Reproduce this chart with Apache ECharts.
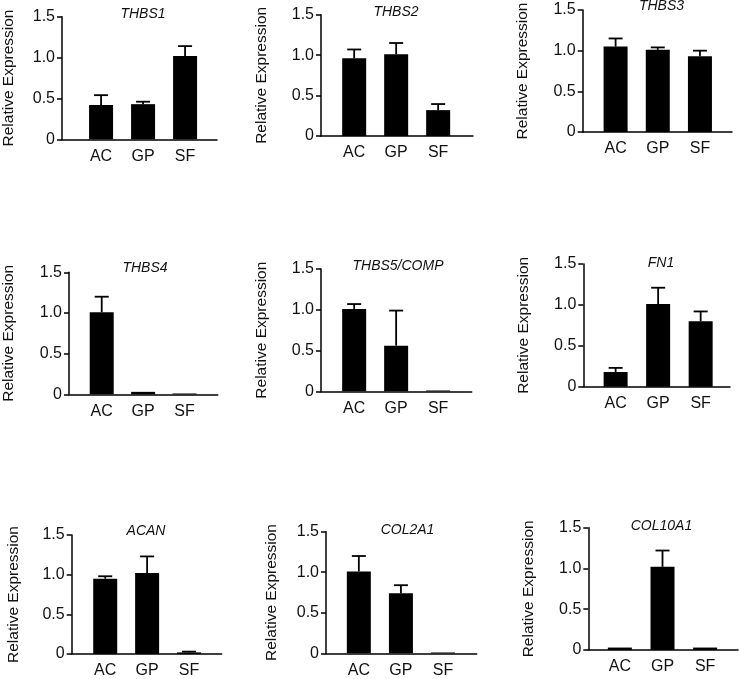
<!DOCTYPE html>
<html>
<head>
<meta charset="utf-8">
<script src="https://cdn.jsdelivr.net/npm/echarts@6/dist/echarts.min.js"></script>
<style>html,body{margin:0;padding:0;background:#fff}#c{width:739px;height:679px}</style>
</head>
<body>
<div id="c"></div>
<script>
// ---- data ----
const categories = ['AC', 'GP', 'SF'];
const genes = ['THBS1', 'THBS2', 'THBS3', 'THBS4', 'THBS5/COMP', 'FN1', 'ACAN', 'COL2A1', 'COL10A1'];
const yTicks = [0, 0.5, 1.0, 1.5];
const thbs1 = [0.42, 0.43, 1.02];     const thbs1Err = [0.12, 0.03, 0.12];
const thbs2 = [0.96, 1.01, 0.32];     const thbs2Err = [0.11, 0.14, 0.075];
const thbs3 = [1.05, 1.01, 0.93];     const thbs3Err = [0.10, 0.03, 0.07];
const thbs4 = [1.01, 0.03, 0.01];     const thbs4Err = [0.19, 0, 0];
const thbs5 = [1.01, 0.56, 0.01];     const thbs5Err = [0.06, 0.43, 0];
const fn1 = [0.18, 1.01, 0.80];       const fn1Err = [0.05, 0.20, 0.12];
const acan = [0.95, 1.02, 0.02];      const acanErr = [0.03, 0.21, 0.01];
const col2a1 = [1.01, 0.74, 0.01];    const col2a1Err = [0.19, 0.10, 0];
const col10a1 = [0.03, 1.02, 0.03];   const col10a1Err = [0, 0.20, 0];

const means = [thbs1, thbs2, thbs3, thbs4, thbs5, fn1, acan, col2a1, col10a1];
const errs = [thbs1Err, thbs2Err, thbs3Err, thbs4Err, thbs5Err, fn1Err, acanErr, col2a1Err, col10a1Err];

// ---- layout (pixels) ----
const layout = [
  {l: 61,    r: 217,   t: 16.7,  b: 139.3, xmin: -0.93, xmax: 2.76, ng: 45, tx: 143,   ty: 7},
  {l: 321,   r: 473,   t: 14.7,  b: 136,   xmin: -0.79, xmax: 2.83, ng: 51, tx: 396,   ty: 5},
  {l: 582.7, r: 732,   t: 10,    b: 132,   xmin: -0.78, xmax: 2.76, ng: 52, tx: 661.5, ty: -1},
  {l: 67,    r: 217.7, t: 272.3, b: 394.3, xmin: -0.79, xmax: 2.80, ng: 52, tx: 145,   ty: 261},
  {l: 321,   r: 471.7, t: 269,   b: 391.3, xmin: -0.79, xmax: 2.80, ng: 51, tx: 398,   ty: 259.5},
  {l: 583.3, r: 730,   t: 264,   b: 386.7, xmin: -0.76, xmax: 2.69, ng: 52, tx: 661,   ty: 256},
  {l: 71.7,  r: 221.7, t: 535,   b: 657.7, xmin: -0.80, xmax: 2.78, ng: 50, tx: 146,   ty: 524.5},
  {l: 326,   r: 476.7, t: 531.7, b: 653.3, xmin: -0.78, xmax: 2.80, ng: 46, tx: 407.5, ty: 523},
  {l: 588.3, r: 738,   t: 527.7, b: 650,   xmin: -0.74, xmax: 2.77, ng: 52, tx: 661.5, ty: 519.5}
];

const font = "'Liberation Sans', Arial, sans-serif";
const grid = [], xAxis = [], yAxis = [], series = [], title = [];

layout.forEach((p, i) => {
  grid.push({left: p.l, width: p.r - p.l, top: p.t, height: p.b - p.t, containLabel: false});
  title.push({
    text: genes[i], left: p.tx, top: p.ty, textAlign: 'center', padding: 0,
    textStyle: {fontFamily: font, fontSize: 14, fontStyle: 'italic', fontWeight: 'normal', color: '#111'}
  });
  xAxis.push({
    gridIndex: i, type: 'value', min: p.xmin, max: p.xmax,
    axisLine: {show: true, onZero: false, lineStyle: {color: '#000', width: 1.5}},
    axisTick: {show: false}, splitLine: {show: false},
    axisLabel: {
      customValues: [0, 1, 2], margin: 9,
      formatter: v => categories[Math.round(v)] || '',
      fontFamily: font, fontSize: 16, color: '#111'
    }
  });
  yAxis.push({
    gridIndex: i, type: 'value', min: 0, max: 1.5, interval: 0.5,
    name: 'Relative Expression', nameLocation: 'middle', nameRotate: 90, nameGap: p.ng,
    nameTextStyle: {fontFamily: font, fontSize: 15.5, color: '#111'},
    axisLine: {show: true, onZero: false, lineStyle: {color: '#000', width: 1.5}},
    axisTick: {show: true, length: 5, lineStyle: {color: '#000', width: 1.5}},
    splitLine: {show: false},
    axisLabel: {
      margin: 7, fontFamily: font, fontSize: 16, color: '#111',
      formatter: v => (v === 0 ? '0' : v.toFixed(1))
    }
  });
  series.push({
    type: 'bar', xAxisIndex: i, yAxisIndex: i, barWidth: 24,
    itemStyle: {color: '#000'}, silent: true,
    data: means[i].map((v, k) => [k, v])
  });
  series.push({
    type: 'custom', xAxisIndex: i, yAxisIndex: i, silent: true, z: 3,
    encode: {x: 0, y: 1},
    data: means[i].map((v, k) => [k, v, errs[i][k]]),
    renderItem: (params, api) => {
      const x = api.value(0), m = api.value(1), e = api.value(2);
      if (!e) return null;
      const p1 = api.coord([x, m]);
      const p2 = api.coord([x, m + e]);
      const st = {stroke: '#000', lineWidth: 1.8};
      return {
        type: 'group',
        children: [
          {type: 'line', shape: {x1: p1[0], y1: p1[1], x2: p2[0], y2: p2[1]}, style: st},
          {type: 'line', shape: {x1: p2[0] - 7, y1: p2[1], x2: p2[0] + 7, y2: p2[1]}, style: st}
        ]
      };
    }
  });
});

const chart = echarts.init(document.getElementById('c'), null, {renderer: 'canvas'});
chart.setOption({
  animation: false,
  backgroundColor: '#fff',
  title, grid, xAxis, yAxis, series
});
</script>
</body>
</html>
